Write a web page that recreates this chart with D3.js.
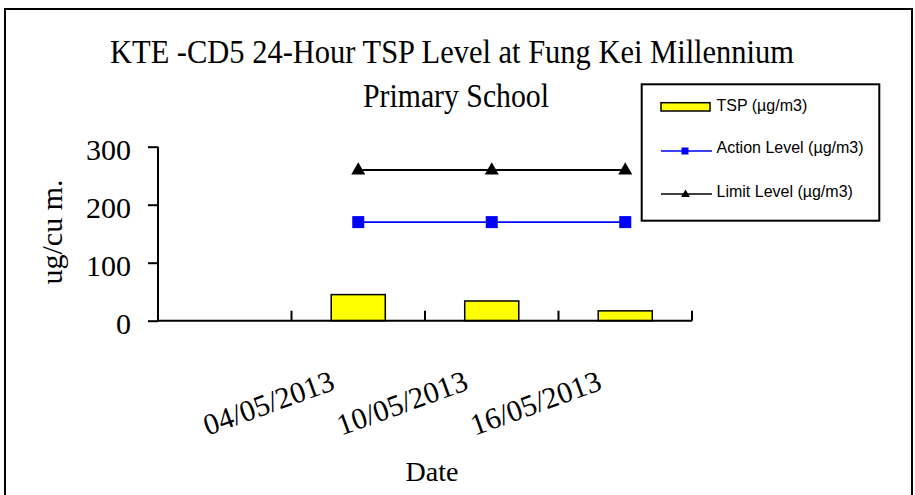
<!DOCTYPE html>
<html>
<head>
<meta charset="utf-8">
<script src="https://cdn.jsdelivr.net/npm/d3@7/dist/d3.min.js"></script>
<style>
  html, body { margin: 0; padding: 0; background: #fff; }
  svg { display: block; }
</style>
</head>
<body>
<svg id="chart" width="915" height="495"></svg>
<script>
// ---- data ----
const categories = ["", "04/05/2013", "10/05/2013", "16/05/2013"];
const tspValues = [null, 45, 34, 17];
const actionLevel = [null, 170, 170, 170];
const limitLevel = [null, 260, 260, 260];
const yTicks = [0, 100, 200, 300];
const titleLines = ["KTE -CD5 24-Hour TSP Level at Fung Kei Millennium", "Primary School"];
const legendLabels = ["TSP (\u00b5g/m3)", "Action Level (\u00b5g/m3)", "Limit Level (\u00b5g/m3)"];

const serif = "'Liberation Serif', 'DejaVu Serif', serif";
const sans = "'Liberation Sans', Arial, sans-serif";

const svg = d3.select("#chart");

// outer border
svg.append("rect").attr("x", 5).attr("y", 9).attr("width", 907).attr("height", 500)
  .attr("fill", "none").attr("stroke", "#000").attr("stroke-width", 2);

// scales
const x = d3.scaleBand().domain(categories).range([158, 692]).padding(0);
const y = d3.scaleLinear().domain([0, 300]).range([320.7, 146.7]);

// title
svg.append("text").attr("x", 452).attr("y", 63).attr("text-anchor", "middle")
  .attr("font-family", serif).attr("font-size", 33)
  .attr("textLength", 684).attr("lengthAdjust", "spacingAndGlyphs")
  .text(titleLines[0]);
svg.append("text").attr("x", 456).attr("y", 106.5).attr("text-anchor", "middle")
  .attr("font-family", serif).attr("font-size", 33)
  .attr("textLength", 186).attr("lengthAdjust", "spacingAndGlyphs")
  .text(titleLines[1]);

// y axis
const yAxis = d3.axisLeft(y).tickValues(yTicks).tickSize(10).tickPadding(17).tickFormat(d3.format("d"));
const gy = svg.append("g").attr("transform", "translate(158,0)").call(yAxis);
gy.select(".domain").attr("stroke", "#000").attr("stroke-width", 2).attr("d", `M0,${y(300)}V${y(0)}`);
gy.selectAll(".tick line").attr("stroke", "#000").attr("stroke-width", 2);
gy.selectAll(".tick text").attr("font-family", serif).attr("font-size", 30).attr("fill", "#000")
  .attr("dy", "0.42em");

// y label
svg.append("text").attr("transform", "translate(62,232) rotate(-90)").attr("text-anchor", "middle")
  .attr("font-family", serif).attr("font-size", 30).text("ug/cu m.");

// bars
const barW = x.bandwidth() * 0.405;
svg.append("g").selectAll("rect").data(categories.map((c, i) => ({c, v: tspValues[i]})).filter(d => d.v != null))
  .join("rect")
  .attr("x", d => x(d.c) + x.bandwidth() / 2 - barW / 2)
  .attr("y", d => y(d.v))
  .attr("width", barW)
  .attr("height", d => y(0) - y(d.v))
  .attr("fill", "#FFFF00").attr("stroke", "#000").attr("stroke-width", 1.5);

// x axis
const xAxis = d3.axisBottom(x).tickSize(0).tickFormat("");
const gx = svg.append("g").attr("transform", `translate(0,${y(0)})`).call(xAxis);
gx.select(".domain").attr("stroke", "#000").attr("stroke-width", 2).attr("d", `M157,0H${x.range()[1]}`);
const boundaries = categories.map(c => x(c)).concat([x.range()[1]]);
gx.selectAll(".btick").data(boundaries).join("line").attr("class", "btick")
  .attr("x1", d => d).attr("x2", d => d).attr("y1", 0).attr("y2", -10)
  .attr("stroke", "#000").attr("stroke-width", 2);

// x labels (rotated)
svg.append("g").selectAll("text").data(categories.filter(c => c !== "")).join("text")
  .attr("transform", d => `translate(${x(d) + x.bandwidth() / 2 - 22},389) rotate(-20)`)
  .attr("text-anchor", "end").attr("font-family", serif).attr("font-size", 30)
  .text(d => d);

// x title
svg.append("text").attr("x", 432).attr("y", 481).attr("text-anchor", "middle")
  .attr("font-family", serif).attr("font-size", 28).text("Date");

// lines
const cx = c => x(c) + x.bandwidth() / 2;
const actionPts = categories.map((c, i) => ({c, v: actionLevel[i]})).filter(d => d.v != null);
const limitPts = categories.map((c, i) => ({c, v: limitLevel[i]})).filter(d => d.v != null);
const line = d3.line().x(d => cx(d.c)).y(d => y(d.v));

svg.append("path").datum(actionPts).attr("d", line).attr("fill", "none")
  .attr("stroke", "#0000FF").attr("stroke-width", 1.6);
svg.append("g").selectAll("rect").data(actionPts).join("rect")
  .attr("x", d => cx(d.c) - 6).attr("y", d => y(d.v) - 6).attr("width", 12).attr("height", 12)
  .attr("fill", "#0000FF");

svg.append("path").datum(limitPts).attr("d", line).attr("fill", "none")
  .attr("stroke", "#000").attr("stroke-width", 2);
const tri = d3.symbol().type(d3.symbolTriangle).size(85);
svg.append("g").selectAll("path").data(limitPts).join("path")
  .attr("d", tri).attr("transform", d => `translate(${cx(d.c)},${y(d.v) + 0.5})`)
  .attr("fill", "#000");

// legend
const lg = svg.append("g");
lg.append("rect").attr("x", 641.7).attr("y", 84.3).attr("width", 237.6).attr("height", 136.4)
  .attr("fill", "#fff").attr("stroke", "#000").attr("stroke-width", 2);
lg.append("rect").attr("x", 661).attr("y", 102.7).attr("width", 49).attr("height", 8.3)
  .attr("fill", "#FFFF00").attr("stroke", "#000").attr("stroke-width", 1.5);
lg.append("line").attr("x1", 661).attr("x2", 712).attr("y1", 151).attr("y2", 151)
  .attr("stroke", "#0000FF").attr("stroke-width", 1.6);
lg.append("rect").attr("x", 681.5).attr("y", 147.5).attr("width", 7).attr("height", 7).attr("fill", "#0000FF");
lg.append("line").attr("x1", 661).attr("x2", 712).attr("y1", 194).attr("y2", 194)
  .attr("stroke", "#000").attr("stroke-width", 1.6);
lg.append("path").attr("d", d3.symbol().type(d3.symbolTriangle).size(34)).attr("transform", "translate(685.5,194.5)")
  .attr("fill", "#000");
const legY = [110.7, 153.3, 197];
lg.selectAll("text.leg").data(legendLabels).join("text").attr("class", "leg")
  .attr("x", 716.5).attr("y", (d, i) => legY[i])
  .attr("font-family", sans).attr("font-size", 16).text(d => d);
</script>
</body>
</html>
